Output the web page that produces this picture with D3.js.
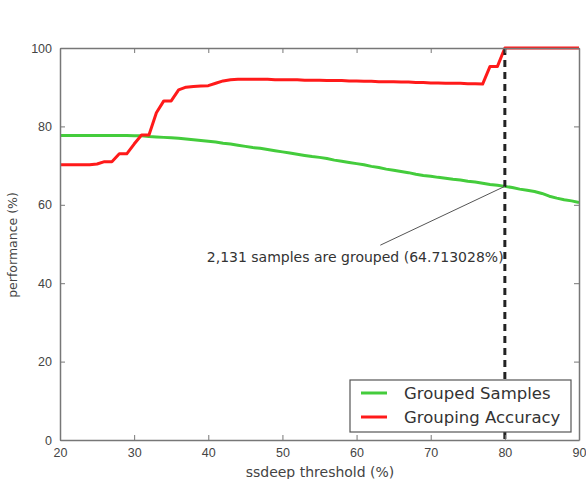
<!DOCTYPE html>
<html>
<head>
<meta charset="utf-8">
<script src="https://cdn.jsdelivr.net/npm/d3@7"></script>
<style>
  body { margin: 0; background: #fff; }
  svg { display: block; font-family: "DejaVu Sans", sans-serif; }
  .axis text { fill: #444; font-size: 12.5px; }
  .axis path, .axis line { stroke: #777; }
</style>
</head>
<body>
<svg id="canvas" width="586" height="479"></svg>
<script>
// ssdeep thresholds (%)
var thresholds = d3.range(20, 91);

// Grouped Samples (%), one value per threshold
var groupedSamples = [
  77.7, 77.7, 77.7, 77.7, 77.7, 77.7, 77.7, 77.7, 77.7, 77.7,
  77.6, 77.6, 77.4, 77.3, 77.2, 77.1, 77.0, 76.8, 76.6, 76.4,
  76.2, 76.0, 75.7, 75.5, 75.2, 74.9, 74.6, 74.4, 74.1, 73.8,
  73.5, 73.2, 72.9, 72.6, 72.3, 72.1, 71.8, 71.4, 71.1, 70.8,
  70.5, 70.2, 69.8, 69.5, 69.1, 68.8, 68.5, 68.2, 67.8, 67.5,
  67.3, 67.0, 66.8, 66.5, 66.3, 66.0, 65.8, 65.5, 65.2, 65.0,
  64.7, 64.4, 64.0, 63.7, 63.4, 62.9, 62.2, 61.7, 61.3, 61.0,
  60.6
];

// Grouping Accuracy (%), one value per threshold
var groupingAccuracy = [
  70.2, 70.2, 70.2, 70.2, 70.2, 70.4, 71.0, 71.0, 73.0, 73.0,
  75.5, 77.8, 77.8, 83.5, 86.5, 86.5, 89.3, 90.0, 90.2, 90.3,
  90.4, 91.0, 91.6, 91.9, 92.0, 92.0, 92.0, 92.0, 92.0, 91.9,
  91.9, 91.9, 91.9, 91.8, 91.8, 91.8, 91.7, 91.7, 91.7, 91.6,
  91.6, 91.5, 91.5, 91.4, 91.4, 91.4, 91.3, 91.3, 91.2, 91.2,
  91.1, 91.1, 91.0, 91.0, 91.0, 90.9, 90.9, 90.8, 95.3, 95.3,
  100, 100, 100, 100, 100, 100, 100, 100, 100, 100,
  100
];

var seriesNames = ['Grouped Samples', 'Grouping Accuracy'];
var seriesColors = ['#44cc3c', '#ff1a1a'];

var xTicks = [20, 30, 40, 50, 60, 70, 80, 90];
var yTicks = [0, 20, 40, 60, 80, 100];

// marked threshold and annotation
var markX = 80;
var markY = 64.713028;
var noteText = '2,131 samples are grouped (64.713028%)';
var noteTail = [63.2, 49.7];   // where the pointer line starts
var notePos = [39.8, 45.5];    // text anchor (data units)

var margin = { top: 48, right: 7, bottom: 39, left: 60 };
var canvas = d3.select('#canvas');
var width = 586 - margin.left - margin.right;
var height = 479 - margin.top - margin.bottom;

var g = canvas.append('g')
  .attr('transform', 'translate(' + margin.left + ',' + margin.top + ')');

var x = d3.scaleLinear().domain([20, 90]).range([0, width]);
var y = d3.scaleLinear().domain([0, 100]).range([height, 0]);

// lines
var line = d3.line()
  .x(function (d) { return x(d[0]); })
  .y(function (d) { return y(d[1]); });

[groupedSamples, groupingAccuracy].forEach(function (vals, i) {
  g.append('path')
    .datum(thresholds.map(function (t, j) { return [t, vals[j]]; }))
    .attr('d', line)
    .attr('fill', 'none')
    .attr('stroke', seriesColors[i])
    .attr('stroke-width', 3)
    .attr('stroke-linejoin', 'round');
});

// dashed vertical marker
g.append('line')
  .attr('x1', x(markX)).attr('x2', x(markX))
  .attr('y1', y(100)).attr('y2', y(0))
  .attr('stroke', '#222')
  .attr('stroke-width', 3)
  .attr('stroke-dasharray', '7,5');

// annotation arrow + text
g.append('line')
  .attr('x1', x(markX)).attr('y1', y(markY))
  .attr('x2', x(noteTail[0])).attr('y2', y(noteTail[1]))
  .attr('stroke', '#555')
  .attr('stroke-width', 1);

g.append('text')
  .attr('x', x(notePos[0]))
  .attr('y', y(notePos[1]))
  .attr('fill', '#333')
  .style('font-size', '14px')
  .text(noteText);

// axes (ticks pointing inward, mirrored on top/right)
function styleAxis(sel) {
  sel.select('.domain').attr('stroke', '#777').attr('stroke-width', 1.5);
  sel.selectAll('.tick line').attr('stroke', '#777');
}

g.append('g').attr('class', 'axis')
  .attr('transform', 'translate(0,' + height + ')')
  .call(d3.axisBottom(x).tickValues(xTicks).tickSizeInner(-5).tickSizeOuter(0).tickPadding(8))
  .call(styleAxis);

g.append('g').attr('class', 'axis')
  .call(d3.axisLeft(y).tickValues(yTicks).tickSizeInner(-5).tickSizeOuter(0).tickPadding(8))
  .call(styleAxis);

g.append('g').attr('class', 'axis')
  .call(d3.axisTop(x).tickValues(xTicks).tickSizeInner(-5).tickSizeOuter(0).tickFormat(''))
  .call(styleAxis);

g.append('g').attr('class', 'axis')
  .attr('transform', 'translate(' + width + ',0)')
  .call(d3.axisRight(y).tickValues(yTicks).tickSizeInner(-5).tickSizeOuter(0).tickFormat(''))
  .call(styleAxis);

// axis labels
canvas.append('text')
  .attr('x', 320)
  .attr('y', 477)
  .attr('text-anchor', 'middle')
  .attr('fill', '#444')
  .style('font-size', '14px')
  .text('ssdeep threshold (%)');

canvas.append('text')
  .attr('transform', 'translate(17,' + 245 + ') rotate(-90)')
  .attr('text-anchor', 'middle')
  .attr('fill', '#444')
  .style('font-size', '12.5px')
  .text('performance (%)');

// legend
var legend = g.append('g')
  .attr('transform', 'translate(' + (350 - margin.left) + ',' + (380 - margin.top) + ')');

legend.append('rect')
  .attr('width', 221).attr('height', 52)
  .attr('fill', '#fff')
  .attr('stroke', '#555')
  .attr('stroke-width', 1.2);

seriesNames.forEach(function (name, i) {
  var row = legend.append('g').attr('transform', 'translate(0,' + (13 + i * 24) + ')');
  row.append('line')
    .attr('x1', 11).attr('x2', 37)
    .attr('stroke', seriesColors[i])
    .attr('stroke-width', 3);
  row.append('text')
    .attr('x', 54).attr('y', 6)
    .attr('fill', '#333')
    .style('font-size', '16.5px')
    .text(name);
});
</script>
</body>
</html>
